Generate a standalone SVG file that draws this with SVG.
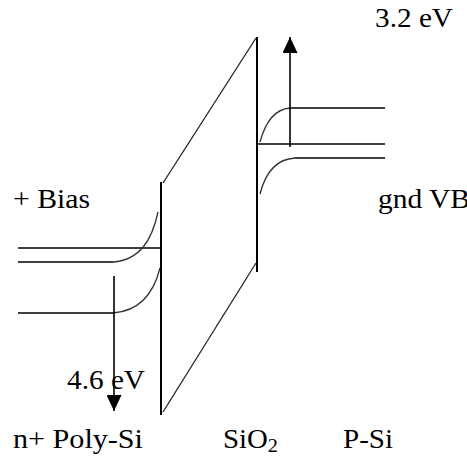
<svg xmlns="http://www.w3.org/2000/svg" width="467" height="457" viewBox="0 0 467 457">
<style>
.ln{stroke:#000;stroke-width:1.6;fill:none}
.vt{stroke:#000;stroke-width:2;fill:none}
.cv{stroke:#333;stroke-width:1.3;fill:none}
.dg{stroke:#222;stroke-width:1.3;fill:none}
.t{font-family:"Liberation Serif","DejaVu Serif",serif;font-size:27px;fill:#000}
</style>
<defs>
<marker id="ah" markerWidth="16" markerHeight="15" refX="16" refY="7.5" orient="auto" markerUnits="userSpaceOnUse">
<path d="M0,0 L16,7.5 L0,15 Z" fill="#000"/>
</marker>
</defs>
<rect width="467" height="457" fill="#fff"/>
<g id="oxide">
<line class="vt" x1="161" y1="182" x2="161" y2="415"/>
<line class="vt" x1="257" y1="37" x2="257" y2="272"/>
<line class="dg" x1="163" y1="183" x2="256" y2="38"/>
<line class="dg" x1="163" y1="412" x2="256" y2="263"/>
</g>
<g id="poly-si">
<line class="ln" x1="18" y1="248" x2="161" y2="248"/>
<line class="ln" x1="18" y1="262" x2="113" y2="262"/>
<path class="cv" d="M113,262 C140,260 152,240 158,212"/>
<line class="ln" x1="18" y1="313" x2="113" y2="313"/>
<path class="cv" d="M113,313 C140,311 154,292 160,268"/>
</g>
<g id="p-si">
<line class="ln" x1="290" y1="108" x2="385" y2="108"/>
<path class="cv" d="M260,142 C266,120 276,109 290,108"/>
<line class="ln" x1="257" y1="144" x2="385" y2="144"/>
<line class="ln" x1="295" y1="158" x2="385" y2="158"/>
<path class="cv" d="M260,194 C266,170 278,159 295,158"/>
</g>
<g id="connectors">
<line class="ln" x1="114" y1="276" x2="114" y2="411" marker-end="url(#ah)"/>
<line class="ln" x1="290" y1="147" x2="290" y2="37" marker-end="url(#ah)"/>
</g>
<g id="labels">
<text class="t" x="375" y="27" textLength="78" lengthAdjust="spacingAndGlyphs">3.2 eV</text>
<text class="t" x="13" y="208" textLength="77" lengthAdjust="spacingAndGlyphs">+ Bias</text>
<text class="t" x="378" y="208" textLength="92" lengthAdjust="spacingAndGlyphs">gnd VB</text>
<text class="t" x="67" y="389" textLength="78" lengthAdjust="spacingAndGlyphs">4.6 eV</text>
<text class="t" x="13" y="448" textLength="130" lengthAdjust="spacingAndGlyphs">n+ Poly-Si</text>
<text class="t" x="223" y="448" textLength="55" lengthAdjust="spacingAndGlyphs">SiO<tspan font-size="19" dy="4">2</tspan></text>
<text class="t" x="343" y="448" textLength="50" lengthAdjust="spacingAndGlyphs">P-Si</text>
</g>
</svg>
